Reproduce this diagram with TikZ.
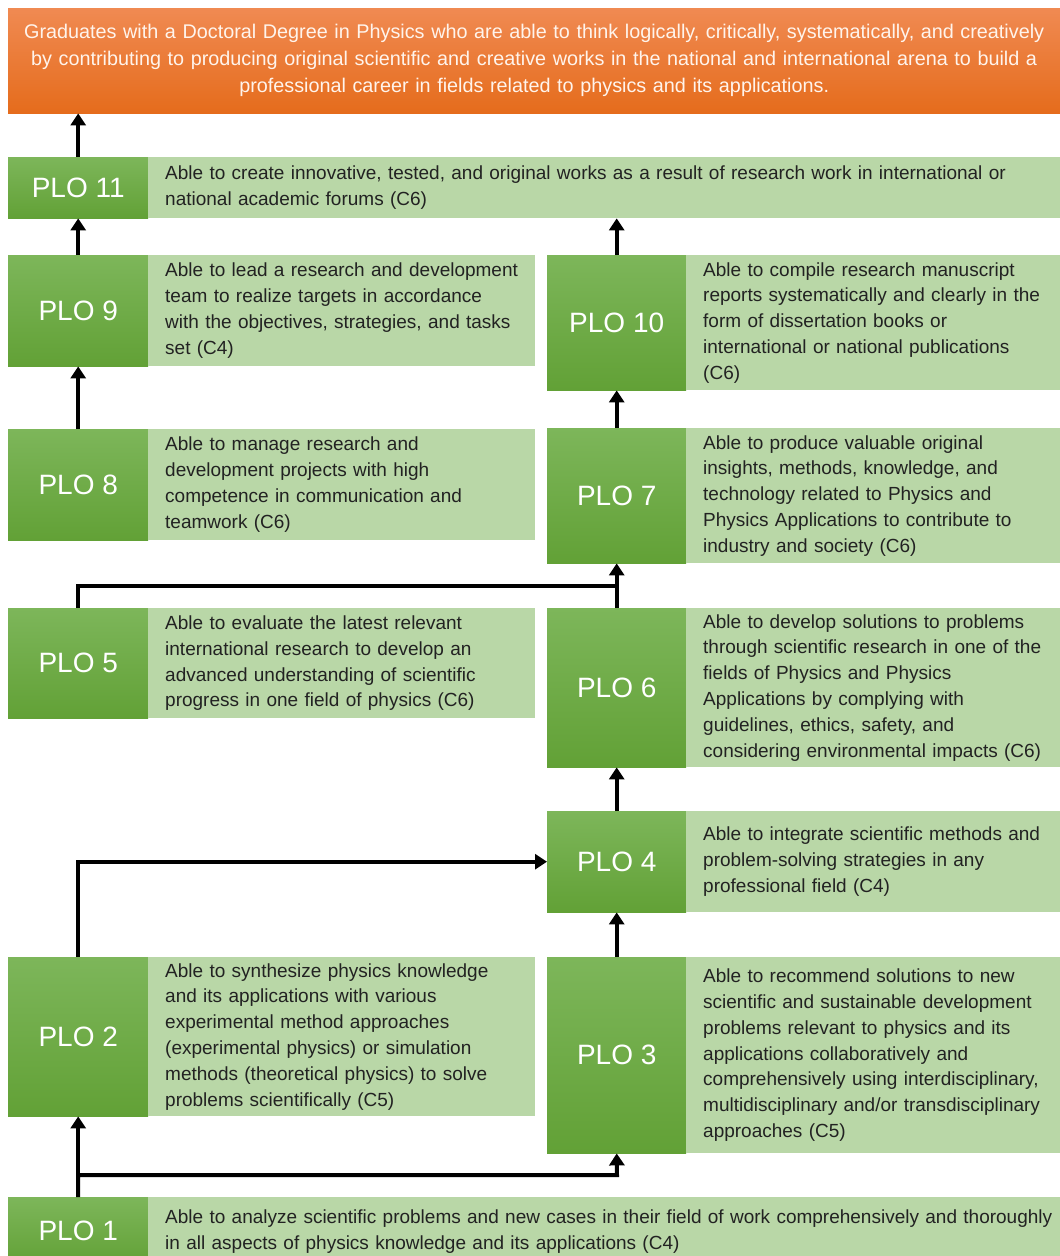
\documentclass[tikz,border=0pt]{standalone}
\usepackage{fontspec}
\setmainfont{Liberation Sans}
\usetikzlibrary{arrows.meta}
\definecolor{dtop}{RGB}{125,182,90}
\definecolor{dbot}{RGB}{98,161,54}
\definecolor{lightg}{RGB}{185,215,167}
\definecolor{otop}{RGB}{240,138,82}
\definecolor{obot}{RGB}{229,108,28}
\definecolor{txt}{RGB}{34,34,34}
\definecolor{ttxt}{RGB}{255,244,236}
\tikzset{
  darkbox/.style={anchor=north west, inner sep=0pt, top color=dtop, bottom color=dbot, draw=none,
    text=white, font=\fontsize{28}{30}\selectfont, minimum width=140pt},
  lightbox/.style={anchor=north west, inner xsep=17pt, inner ysep=0pt, fill=lightg, draw=none,
    text=txt, align=left, font=\fontsize{19}{25.8}\selectfont},
  widelight/.style={lightbox, text width=878pt},
  leftlight/.style={lightbox, text width=353pt},
  rightlight/.style={lightbox, text width=340pt},
  arr/.style={line width=4pt, -{Triangle[width=15pt,length=12pt]}},
  ln/.style={line width=4pt},
}
\begin{document}
\begin{tikzpicture}[x=1pt,y=-1pt]
\useasboundingbox (0,0) rectangle (1060,1256);
% title
\node[anchor=north west, top color=otop, bottom color=obot, draw=none, minimum width=1052pt, minimum height=105pt,
  inner sep=0pt, text width=1046pt, align=center, text=ttxt, font=\fontsize{19.8}{27}\selectfont]
  (title) at (8,8) {Graduates with a Doctoral Degree in Physics who are able to think logically, critically, systematically, and creatively\\
  by contributing to producing original scientific and creative works in the national and international arena to build a\\
  professional career in fields related to physics and its applications.};
% PLO 11
\node[darkbox, minimum height=61pt] (p11d) at (8,157) {PLO 11};
\node[widelight, minimum height=61pt] (p11l) at (148,157)
  {\mbox{Able to create innovative, tested, and original works as a result of research work in international or}\\national academic forums (C6)};
% PLO 9
\node[darkbox, minimum height=111pt] (p9d) at (8,255) {PLO 9};
\node[leftlight, minimum height=111pt] (p9l) at (148,255)
  {Able to lead a research and development\\team to realize targets in accordance\\with the objectives, strategies, and tasks\\set (C4)};
% PLO 10
\node[darkbox, minimum width=139pt, minimum height=135pt] (p10d) at (547,255) {PLO 10};
\node[rightlight, minimum height=135pt] (p10l) at (686,255)
  {Able to compile research manuscript\\reports systematically and clearly in the\\form of dissertation books or\\international or national publications\\(C6)};
% PLO 8
\node[darkbox, minimum height=111pt] (p8d) at (8,429) {PLO 8};
\node[leftlight, minimum height=111pt] (p8l) at (148,429)
  {Able to manage research and\\development projects with high\\competence in communication and\\teamwork (C6)};
% PLO 7
\node[darkbox, minimum width=139pt, minimum height=135pt] (p7d) at (547,428) {PLO 7};
\node[rightlight, minimum height=135pt] (p7l) at (686,428)
  {Able to produce valuable original\\insights, methods, knowledge, and\\technology related to Physics and\\Physics Applications to contribute to\\industry and society (C6)};
% PLO 5
\node[darkbox, minimum height=110pt] (p5d) at (8,608) {PLO 5};
\node[leftlight, minimum height=110pt] (p5l) at (148,608)
  {Able to evaluate the latest relevant\\international research to develop an\\advanced understanding of scientific\\progress in one field of physics (C6)};
% PLO 6
\node[darkbox, minimum width=139pt, minimum height=159pt] (p6d) at (547,608) {PLO 6};
\node[rightlight, minimum height=159pt] (p6l) at (686,608)
  {Able to develop solutions to problems\\through scientific research in one of the\\fields of Physics and Physics\\Applications by complying with\\guidelines, ethics, safety, and\\\mbox{considering environmental impacts (C6)}};
% PLO 4
\node[darkbox, minimum width=139pt, minimum height=101pt] (p4d) at (547,811) {PLO 4};
\node[rightlight, minimum height=101pt] (p4l) at (686,811)
  {Able to integrate scientific methods and\\problem-solving strategies in any\\professional field (C4)};
% PLO 2
\node[darkbox, minimum height=159pt] (p2d) at (8,957) {PLO 2};
\node[leftlight, minimum height=159pt] (p2l) at (148,957)
  {Able to synthesize physics knowledge\\and its applications with various\\experimental method approaches\\(experimental physics) or simulation\\methods (theoretical physics) to solve\\problems scientifically (C5)};
% PLO 3
\node[darkbox, minimum width=139pt, minimum height=196pt] (p3d) at (547,957) {PLO 3};
\node[rightlight, minimum height=196pt] (p3l) at (686,957)
  {Able to recommend solutions to new\\scientific and sustainable development\\problems relevant to physics and its\\applications collaboratively and\\\mbox{comprehensively using interdisciplinary,}\\\mbox{multidisciplinary and/or transdisciplinary}\\approaches (C5)};
% PLO 1
\node[darkbox, minimum height=68pt] (p1d) at (8,1197) {PLO 1};
\node[widelight, minimum height=68pt] (p1l) at (148,1197)
  {\mbox{Able to analyze scientific problems and new cases in their field of work comprehensively and thoroughly}\\in all aspects of physics knowledge and its applications (C4)};
% connectors
\coordinate (j57) at (617,586);
\coordinate (j13) at (617,1175);
\draw[arr] (p11d.north) -- (p11d.north |- title.south);
\draw[arr] (p9d.north) -- (p11d.south);
\draw[arr] (p8d.north) -- (p9d.south);
\draw[arr] (p10d.north) -- (p10d.north |- p11l.south);
\draw[arr] (p7d.north) -- (p10d.south);
\draw[ln] (p5d.north) |- (j57);
\draw[arr] (p6d.north) -- (p7d.south);
\draw[arr] (p4d.north) -- (p6d.south);
\draw[arr] (p2d.north) |- (p4d.west);
\draw[arr] (p3d.north) -- (p4d.south);
\draw[arr] (p1d.north) -- (p2d.south);
\draw[arr] (p1d.north) |- (j13) -- (p3d.south);
\end{tikzpicture}
\end{document}
